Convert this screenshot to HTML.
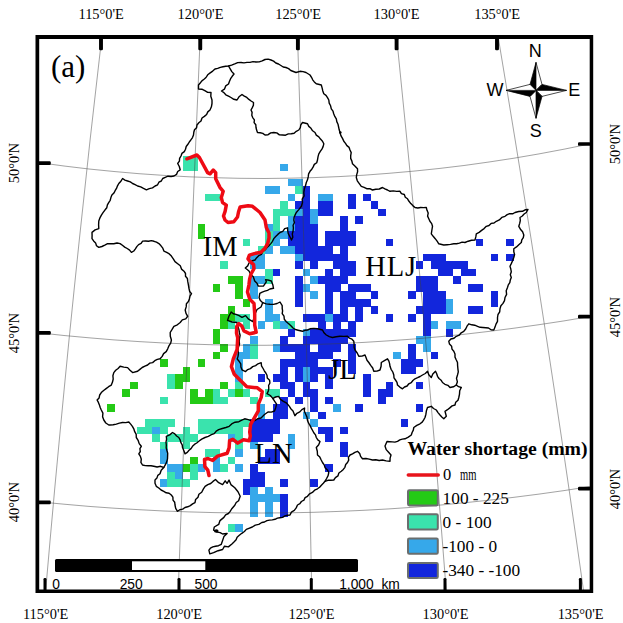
<!DOCTYPE html>
<html><head><meta charset="utf-8"><title>map</title><style>
html,body{margin:0;padding:0;background:#fff;}
#w{position:relative;width:623px;height:623px;overflow:hidden;background:#fff;font-family:"Liberation Serif",serif;color:#000;}
.t{position:absolute;white-space:nowrap;line-height:1;}
.lon{font-size:14.4px;transform:translateX(-50%);}
.lat{font-size:14.4px;transform:translate(-50%,-50%) rotate(-90deg);}
.reg{font-size:28.5px;}
.leg{font-size:17px;}
.sb{font-family:"Liberation Sans",sans-serif;font-size:13px;}
.cp{font-family:"Liberation Sans",sans-serif;font-size:18px;transform:translateX(-50%);}
</style></head><body><div id="w">
<svg width="623" height="623" viewBox="0 0 623 623" style="position:absolute;left:0;top:0">
<rect width="623" height="623" fill="#fff"/>
<g shape-rendering="crispEdges"><rect x="182.50" y="156.00" width="15.19" height="7.67" fill="#3ae3ad"/>
<rect x="182.50" y="163.52" width="15.19" height="7.67" fill="#3ae3ad"/>
<rect x="280.26" y="163.52" width="7.67" height="7.67" fill="#36a8ea"/>
<rect x="287.78" y="178.56" width="15.19" height="7.67" fill="#36a8ea"/>
<rect x="265.22" y="186.08" width="15.19" height="7.67" fill="#36a8ea"/>
<rect x="295.30" y="186.08" width="7.67" height="7.67" fill="#3ae3ad"/>
<rect x="302.82" y="186.08" width="7.67" height="7.67" fill="#1226dc"/>
<rect x="205.06" y="193.60" width="15.19" height="7.67" fill="#3ae3ad"/>
<rect x="287.78" y="193.60" width="7.67" height="7.67" fill="#36a8ea"/>
<rect x="302.82" y="193.60" width="7.67" height="7.67" fill="#1226dc"/>
<rect x="317.86" y="193.60" width="15.19" height="7.67" fill="#36a8ea"/>
<rect x="347.94" y="193.60" width="7.67" height="7.67" fill="#1226dc"/>
<rect x="362.98" y="193.60" width="7.67" height="7.67" fill="#1226dc"/>
<rect x="280.26" y="201.12" width="7.67" height="7.67" fill="#3ae3ad"/>
<rect x="295.30" y="201.12" width="15.19" height="7.67" fill="#1226dc"/>
<rect x="317.86" y="201.12" width="15.19" height="7.67" fill="#1226dc"/>
<rect x="347.94" y="201.12" width="7.67" height="7.67" fill="#1226dc"/>
<rect x="370.50" y="201.12" width="7.67" height="7.67" fill="#1226dc"/>
<rect x="272.74" y="208.64" width="22.71" height="7.67" fill="#3ae3ad"/>
<rect x="295.30" y="208.64" width="7.67" height="7.67" fill="#36a8ea"/>
<rect x="302.82" y="208.64" width="7.67" height="7.67" fill="#1226dc"/>
<rect x="310.34" y="208.64" width="7.67" height="7.67" fill="#36a8ea"/>
<rect x="317.86" y="208.64" width="15.19" height="7.67" fill="#1226dc"/>
<rect x="378.02" y="208.64" width="7.67" height="7.67" fill="#1226dc"/>
<rect x="272.74" y="216.16" width="7.67" height="7.67" fill="#3ae3ad"/>
<rect x="287.78" y="216.16" width="7.67" height="7.67" fill="#36a8ea"/>
<rect x="295.30" y="216.16" width="15.19" height="7.67" fill="#1226dc"/>
<rect x="310.34" y="216.16" width="7.67" height="7.67" fill="#36a8ea"/>
<rect x="340.42" y="216.16" width="7.67" height="7.67" fill="#1226dc"/>
<rect x="355.46" y="216.16" width="7.67" height="7.67" fill="#1226dc"/>
<rect x="197.54" y="223.68" width="7.67" height="7.67" fill="#24ca16"/>
<rect x="265.22" y="223.68" width="7.67" height="7.67" fill="#36a8ea"/>
<rect x="272.74" y="223.68" width="7.67" height="7.67" fill="#3ae3ad"/>
<rect x="287.78" y="223.68" width="7.67" height="7.67" fill="#36a8ea"/>
<rect x="295.30" y="223.68" width="22.71" height="7.67" fill="#1226dc"/>
<rect x="340.42" y="223.68" width="7.67" height="7.67" fill="#1226dc"/>
<rect x="197.54" y="231.20" width="7.67" height="7.67" fill="#24ca16"/>
<rect x="265.22" y="231.20" width="7.67" height="7.67" fill="#3ae3ad"/>
<rect x="272.74" y="231.20" width="15.19" height="7.67" fill="#36a8ea"/>
<rect x="287.78" y="231.20" width="30.23" height="7.67" fill="#1226dc"/>
<rect x="325.38" y="231.20" width="30.23" height="7.67" fill="#1226dc"/>
<rect x="242.66" y="238.72" width="7.67" height="7.67" fill="#3ae3ad"/>
<rect x="265.22" y="238.72" width="7.67" height="7.67" fill="#3ae3ad"/>
<rect x="272.74" y="238.72" width="7.67" height="7.67" fill="#36a8ea"/>
<rect x="287.78" y="238.72" width="30.23" height="7.67" fill="#1226dc"/>
<rect x="325.38" y="238.72" width="30.23" height="7.67" fill="#1226dc"/>
<rect x="385.54" y="238.72" width="7.67" height="7.67" fill="#1226dc"/>
<rect x="475.78" y="238.72" width="7.67" height="7.67" fill="#1226dc"/>
<rect x="505.86" y="238.72" width="7.67" height="7.67" fill="#1226dc"/>
<rect x="257.70" y="246.24" width="7.67" height="7.67" fill="#3ae3ad"/>
<rect x="265.22" y="246.24" width="7.67" height="7.67" fill="#36a8ea"/>
<rect x="280.26" y="246.24" width="15.19" height="7.67" fill="#36a8ea"/>
<rect x="295.30" y="246.24" width="37.75" height="7.67" fill="#1226dc"/>
<rect x="340.42" y="246.24" width="7.67" height="7.67" fill="#1226dc"/>
<rect x="250.18" y="253.76" width="15.19" height="7.67" fill="#36a8ea"/>
<rect x="295.30" y="253.76" width="7.67" height="7.67" fill="#36a8ea"/>
<rect x="302.82" y="253.76" width="45.27" height="7.67" fill="#1226dc"/>
<rect x="423.14" y="253.76" width="22.71" height="7.67" fill="#1226dc"/>
<rect x="490.82" y="253.76" width="7.67" height="7.67" fill="#1226dc"/>
<rect x="505.86" y="253.76" width="7.67" height="7.67" fill="#1226dc"/>
<rect x="250.18" y="261.28" width="15.19" height="7.67" fill="#36a8ea"/>
<rect x="220.10" y="261.28" width="7.67" height="7.67" fill="#3ae3ad"/>
<rect x="295.30" y="261.28" width="7.67" height="7.67" fill="#1226dc"/>
<rect x="310.34" y="261.28" width="7.67" height="7.67" fill="#1226dc"/>
<rect x="332.90" y="261.28" width="22.71" height="7.67" fill="#1226dc"/>
<rect x="415.62" y="261.28" width="7.67" height="7.67" fill="#1226dc"/>
<rect x="430.66" y="261.28" width="37.75" height="7.67" fill="#1226dc"/>
<rect x="265.22" y="268.80" width="7.67" height="7.67" fill="#3ae3ad"/>
<rect x="272.74" y="268.80" width="7.67" height="7.67" fill="#1226dc"/>
<rect x="302.82" y="268.80" width="7.67" height="7.67" fill="#36a8ea"/>
<rect x="325.38" y="268.80" width="7.67" height="7.67" fill="#1226dc"/>
<rect x="340.42" y="268.80" width="15.19" height="7.67" fill="#1226dc"/>
<rect x="438.18" y="268.80" width="15.19" height="7.67" fill="#1226dc"/>
<rect x="460.74" y="268.80" width="15.19" height="7.67" fill="#1226dc"/>
<rect x="227.62" y="276.32" width="15.19" height="7.67" fill="#24ca16"/>
<rect x="250.18" y="276.32" width="15.19" height="7.67" fill="#36a8ea"/>
<rect x="265.22" y="276.32" width="7.67" height="7.67" fill="#3ae3ad"/>
<rect x="295.30" y="276.32" width="7.67" height="7.67" fill="#1226dc"/>
<rect x="310.34" y="276.32" width="7.67" height="7.67" fill="#36a8ea"/>
<rect x="317.86" y="276.32" width="30.23" height="7.67" fill="#1226dc"/>
<rect x="415.62" y="276.32" width="22.71" height="7.67" fill="#1226dc"/>
<rect x="453.22" y="276.32" width="7.67" height="7.67" fill="#1226dc"/>
<rect x="212.58" y="283.84" width="7.67" height="7.67" fill="#24ca16"/>
<rect x="235.14" y="283.84" width="7.67" height="7.67" fill="#24ca16"/>
<rect x="250.18" y="283.84" width="7.67" height="7.67" fill="#36a8ea"/>
<rect x="295.30" y="283.84" width="7.67" height="7.67" fill="#1226dc"/>
<rect x="302.82" y="283.84" width="7.67" height="7.67" fill="#36a8ea"/>
<rect x="325.38" y="283.84" width="15.19" height="7.67" fill="#1226dc"/>
<rect x="347.94" y="283.84" width="22.71" height="7.67" fill="#1226dc"/>
<rect x="415.62" y="283.84" width="22.71" height="7.67" fill="#1226dc"/>
<rect x="468.26" y="283.84" width="15.19" height="7.67" fill="#1226dc"/>
<rect x="235.14" y="291.36" width="7.67" height="7.67" fill="#24ca16"/>
<rect x="250.18" y="291.36" width="7.67" height="7.67" fill="#36a8ea"/>
<rect x="295.30" y="291.36" width="7.67" height="7.67" fill="#1226dc"/>
<rect x="310.34" y="291.36" width="7.67" height="7.67" fill="#36a8ea"/>
<rect x="325.38" y="291.36" width="7.67" height="7.67" fill="#1226dc"/>
<rect x="340.42" y="291.36" width="15.19" height="7.67" fill="#1226dc"/>
<rect x="370.50" y="291.36" width="7.67" height="7.67" fill="#1226dc"/>
<rect x="408.10" y="291.36" width="7.67" height="7.67" fill="#1226dc"/>
<rect x="423.14" y="291.36" width="22.71" height="7.67" fill="#1226dc"/>
<rect x="490.82" y="291.36" width="7.67" height="7.67" fill="#1226dc"/>
<rect x="242.66" y="298.88" width="7.67" height="7.67" fill="#24ca16"/>
<rect x="265.22" y="298.88" width="7.67" height="7.67" fill="#36a8ea"/>
<rect x="295.30" y="298.88" width="7.67" height="7.67" fill="#1226dc"/>
<rect x="325.38" y="298.88" width="7.67" height="7.67" fill="#1226dc"/>
<rect x="340.42" y="298.88" width="30.23" height="7.67" fill="#1226dc"/>
<rect x="423.14" y="298.88" width="22.71" height="7.67" fill="#1226dc"/>
<rect x="445.70" y="298.88" width="7.67" height="7.67" fill="#36a8ea"/>
<rect x="490.82" y="298.88" width="7.67" height="7.67" fill="#1226dc"/>
<rect x="227.62" y="306.40" width="7.67" height="7.67" fill="#24ca16"/>
<rect x="265.22" y="306.40" width="7.67" height="7.67" fill="#36a8ea"/>
<rect x="325.38" y="306.40" width="7.67" height="7.67" fill="#1226dc"/>
<rect x="340.42" y="306.40" width="7.67" height="7.67" fill="#1226dc"/>
<rect x="355.46" y="306.40" width="7.67" height="7.67" fill="#1226dc"/>
<rect x="370.50" y="306.40" width="7.67" height="7.67" fill="#1226dc"/>
<rect x="415.62" y="306.40" width="30.23" height="7.67" fill="#1226dc"/>
<rect x="445.70" y="306.40" width="7.67" height="7.67" fill="#36a8ea"/>
<rect x="468.26" y="306.40" width="15.19" height="7.67" fill="#1226dc"/>
<rect x="220.10" y="313.92" width="15.19" height="7.67" fill="#24ca16"/>
<rect x="235.14" y="313.92" width="15.19" height="7.67" fill="#3ae3ad"/>
<rect x="265.22" y="313.92" width="15.19" height="7.67" fill="#36a8ea"/>
<rect x="302.82" y="313.92" width="22.71" height="7.67" fill="#1226dc"/>
<rect x="325.38" y="313.92" width="7.67" height="7.67" fill="#36a8ea"/>
<rect x="332.90" y="313.92" width="15.19" height="7.67" fill="#1226dc"/>
<rect x="355.46" y="313.92" width="7.67" height="7.67" fill="#1226dc"/>
<rect x="385.54" y="313.92" width="7.67" height="7.67" fill="#1226dc"/>
<rect x="408.10" y="313.92" width="7.67" height="7.67" fill="#1226dc"/>
<rect x="423.14" y="313.92" width="7.67" height="7.67" fill="#1226dc"/>
<rect x="220.10" y="321.44" width="7.67" height="7.67" fill="#24ca16"/>
<rect x="227.62" y="321.44" width="7.67" height="7.67" fill="#3ae3ad"/>
<rect x="242.66" y="321.44" width="7.67" height="7.67" fill="#3ae3ad"/>
<rect x="257.70" y="321.44" width="7.67" height="7.67" fill="#36a8ea"/>
<rect x="272.74" y="321.44" width="7.67" height="7.67" fill="#3ae3ad"/>
<rect x="280.26" y="321.44" width="7.67" height="7.67" fill="#36a8ea"/>
<rect x="287.78" y="321.44" width="7.67" height="7.67" fill="#3ae3ad"/>
<rect x="317.86" y="321.44" width="7.67" height="7.67" fill="#1226dc"/>
<rect x="332.90" y="321.44" width="7.67" height="7.67" fill="#1226dc"/>
<rect x="347.94" y="321.44" width="7.67" height="7.67" fill="#1226dc"/>
<rect x="423.14" y="321.44" width="7.67" height="7.67" fill="#1226dc"/>
<rect x="430.66" y="321.44" width="7.67" height="7.67" fill="#36a8ea"/>
<rect x="445.70" y="321.44" width="15.19" height="7.67" fill="#36a8ea"/>
<rect x="212.58" y="328.96" width="7.67" height="7.67" fill="#24ca16"/>
<rect x="287.78" y="328.96" width="7.67" height="7.67" fill="#1226dc"/>
<rect x="302.82" y="328.96" width="7.67" height="7.67" fill="#36a8ea"/>
<rect x="310.34" y="328.96" width="45.27" height="7.67" fill="#1226dc"/>
<rect x="423.14" y="328.96" width="7.67" height="7.67" fill="#1226dc"/>
<rect x="445.70" y="328.96" width="7.67" height="7.67" fill="#1226dc"/>
<rect x="212.58" y="336.48" width="7.67" height="7.67" fill="#24ca16"/>
<rect x="250.18" y="336.48" width="7.67" height="7.67" fill="#36a8ea"/>
<rect x="280.26" y="336.48" width="7.67" height="7.67" fill="#1226dc"/>
<rect x="302.82" y="336.48" width="45.27" height="7.67" fill="#1226dc"/>
<rect x="415.62" y="336.48" width="15.19" height="7.67" fill="#36a8ea"/>
<rect x="220.10" y="344.00" width="7.67" height="7.67" fill="#24ca16"/>
<rect x="242.66" y="344.00" width="7.67" height="7.67" fill="#36a8ea"/>
<rect x="250.18" y="344.00" width="7.67" height="7.67" fill="#3ae3ad"/>
<rect x="272.74" y="344.00" width="7.67" height="7.67" fill="#36a8ea"/>
<rect x="280.26" y="344.00" width="30.23" height="7.67" fill="#1226dc"/>
<rect x="317.86" y="344.00" width="22.71" height="7.67" fill="#1226dc"/>
<rect x="347.94" y="344.00" width="7.67" height="7.67" fill="#1226dc"/>
<rect x="408.10" y="344.00" width="7.67" height="7.67" fill="#1226dc"/>
<rect x="423.14" y="344.00" width="7.67" height="7.67" fill="#36a8ea"/>
<rect x="212.58" y="351.52" width="7.67" height="7.67" fill="#24ca16"/>
<rect x="235.14" y="351.52" width="15.19" height="7.67" fill="#36a8ea"/>
<rect x="250.18" y="351.52" width="7.67" height="7.67" fill="#3ae3ad"/>
<rect x="295.30" y="351.52" width="37.75" height="7.67" fill="#1226dc"/>
<rect x="347.94" y="351.52" width="7.67" height="7.67" fill="#1226dc"/>
<rect x="393.06" y="351.52" width="7.67" height="7.67" fill="#36a8ea"/>
<rect x="408.10" y="351.52" width="7.67" height="7.67" fill="#1226dc"/>
<rect x="430.66" y="351.52" width="7.67" height="7.67" fill="#1226dc"/>
<rect x="159.94" y="359.04" width="7.67" height="7.67" fill="#24ca16"/>
<rect x="197.54" y="359.04" width="7.67" height="7.67" fill="#24ca16"/>
<rect x="235.14" y="359.04" width="7.67" height="7.67" fill="#36a8ea"/>
<rect x="280.26" y="359.04" width="37.75" height="7.67" fill="#1226dc"/>
<rect x="332.90" y="359.04" width="7.67" height="7.67" fill="#1226dc"/>
<rect x="347.94" y="359.04" width="7.67" height="7.67" fill="#1226dc"/>
<rect x="400.58" y="359.04" width="22.71" height="7.67" fill="#1226dc"/>
<rect x="182.50" y="366.56" width="7.67" height="7.67" fill="#24ca16"/>
<rect x="235.14" y="366.56" width="7.67" height="7.67" fill="#36a8ea"/>
<rect x="280.26" y="366.56" width="7.67" height="7.67" fill="#1226dc"/>
<rect x="295.30" y="366.56" width="7.67" height="7.67" fill="#1226dc"/>
<rect x="302.82" y="366.56" width="7.67" height="7.67" fill="#36a8ea"/>
<rect x="310.34" y="366.56" width="22.71" height="7.67" fill="#1226dc"/>
<rect x="347.94" y="366.56" width="7.67" height="7.67" fill="#1226dc"/>
<rect x="400.58" y="366.56" width="15.19" height="7.67" fill="#1226dc"/>
<rect x="167.46" y="374.08" width="7.67" height="7.67" fill="#3ae3ad"/>
<rect x="174.98" y="374.08" width="15.19" height="7.67" fill="#24ca16"/>
<rect x="235.14" y="374.08" width="7.67" height="7.67" fill="#36a8ea"/>
<rect x="257.70" y="374.08" width="7.67" height="7.67" fill="#1226dc"/>
<rect x="272.74" y="374.08" width="15.19" height="7.67" fill="#1226dc"/>
<rect x="295.30" y="374.08" width="7.67" height="7.67" fill="#1226dc"/>
<rect x="302.82" y="374.08" width="7.67" height="7.67" fill="#36a8ea"/>
<rect x="310.34" y="374.08" width="7.67" height="7.67" fill="#1226dc"/>
<rect x="325.38" y="374.08" width="7.67" height="7.67" fill="#1226dc"/>
<rect x="362.98" y="374.08" width="7.67" height="7.67" fill="#1226dc"/>
<rect x="129.86" y="381.60" width="7.67" height="7.67" fill="#24ca16"/>
<rect x="167.46" y="381.60" width="7.67" height="7.67" fill="#3ae3ad"/>
<rect x="174.98" y="381.60" width="7.67" height="7.67" fill="#24ca16"/>
<rect x="220.10" y="381.60" width="7.67" height="7.67" fill="#24ca16"/>
<rect x="235.14" y="381.60" width="7.67" height="7.67" fill="#3ae3ad"/>
<rect x="280.26" y="381.60" width="15.19" height="7.67" fill="#1226dc"/>
<rect x="302.82" y="381.60" width="7.67" height="7.67" fill="#1226dc"/>
<rect x="325.38" y="381.60" width="7.67" height="7.67" fill="#1226dc"/>
<rect x="362.98" y="381.60" width="7.67" height="7.67" fill="#1226dc"/>
<rect x="385.54" y="381.60" width="7.67" height="7.67" fill="#1226dc"/>
<rect x="415.62" y="381.60" width="7.67" height="7.67" fill="#1226dc"/>
<rect x="122.34" y="389.12" width="7.67" height="7.67" fill="#24ca16"/>
<rect x="190.02" y="389.12" width="7.67" height="7.67" fill="#24ca16"/>
<rect x="205.06" y="389.12" width="7.67" height="7.67" fill="#24ca16"/>
<rect x="212.58" y="389.12" width="7.67" height="7.67" fill="#3ae3ad"/>
<rect x="227.62" y="389.12" width="7.67" height="7.67" fill="#3ae3ad"/>
<rect x="235.14" y="389.12" width="7.67" height="7.67" fill="#24ca16"/>
<rect x="242.66" y="389.12" width="7.67" height="7.67" fill="#3ae3ad"/>
<rect x="265.22" y="389.12" width="15.19" height="7.67" fill="#3ae3ad"/>
<rect x="287.78" y="389.12" width="7.67" height="7.67" fill="#1226dc"/>
<rect x="302.82" y="389.12" width="15.19" height="7.67" fill="#1226dc"/>
<rect x="362.98" y="389.12" width="7.67" height="7.67" fill="#1226dc"/>
<rect x="378.02" y="389.12" width="15.19" height="7.67" fill="#1226dc"/>
<rect x="159.94" y="396.64" width="7.67" height="7.67" fill="#3ae3ad"/>
<rect x="190.02" y="396.64" width="22.71" height="7.67" fill="#24ca16"/>
<rect x="212.58" y="396.64" width="15.19" height="7.67" fill="#3ae3ad"/>
<rect x="250.18" y="396.64" width="7.67" height="7.67" fill="#3ae3ad"/>
<rect x="280.26" y="396.64" width="7.67" height="7.67" fill="#1226dc"/>
<rect x="295.30" y="396.64" width="7.67" height="7.67" fill="#1226dc"/>
<rect x="310.34" y="396.64" width="7.67" height="7.67" fill="#1226dc"/>
<rect x="325.38" y="396.64" width="7.67" height="7.67" fill="#1226dc"/>
<rect x="378.02" y="396.64" width="7.67" height="7.67" fill="#1226dc"/>
<rect x="107.30" y="404.16" width="7.67" height="7.67" fill="#24ca16"/>
<rect x="257.70" y="404.16" width="7.67" height="7.67" fill="#36a8ea"/>
<rect x="272.74" y="404.16" width="15.19" height="7.67" fill="#1226dc"/>
<rect x="310.34" y="404.16" width="7.67" height="7.67" fill="#1226dc"/>
<rect x="332.90" y="404.16" width="7.67" height="7.67" fill="#36a8ea"/>
<rect x="355.46" y="404.16" width="7.67" height="7.67" fill="#1226dc"/>
<rect x="415.62" y="404.16" width="7.67" height="7.67" fill="#1226dc"/>
<rect x="257.70" y="411.68" width="7.67" height="7.67" fill="#36a8ea"/>
<rect x="272.74" y="411.68" width="15.19" height="7.67" fill="#1226dc"/>
<rect x="302.82" y="411.68" width="7.67" height="7.67" fill="#36a8ea"/>
<rect x="317.86" y="411.68" width="7.67" height="7.67" fill="#1226dc"/>
<rect x="144.90" y="419.20" width="30.23" height="7.67" fill="#3ae3ad"/>
<rect x="197.54" y="419.20" width="52.79" height="7.67" fill="#3ae3ad"/>
<rect x="250.18" y="419.20" width="30.23" height="7.67" fill="#1226dc"/>
<rect x="310.34" y="419.20" width="7.67" height="7.67" fill="#36a8ea"/>
<rect x="400.58" y="419.20" width="7.67" height="7.67" fill="#1226dc"/>
<rect x="137.38" y="426.72" width="15.19" height="7.67" fill="#3ae3ad"/>
<rect x="152.42" y="426.72" width="7.67" height="7.67" fill="#36a8ea"/>
<rect x="159.94" y="426.72" width="7.67" height="7.67" fill="#3ae3ad"/>
<rect x="182.50" y="426.72" width="7.67" height="7.67" fill="#3ae3ad"/>
<rect x="197.54" y="426.72" width="45.27" height="7.67" fill="#3ae3ad"/>
<rect x="250.18" y="426.72" width="30.23" height="7.67" fill="#1226dc"/>
<rect x="317.86" y="426.72" width="15.19" height="7.67" fill="#1226dc"/>
<rect x="340.42" y="426.72" width="7.67" height="7.67" fill="#1226dc"/>
<rect x="152.42" y="434.24" width="7.67" height="7.67" fill="#3ae3ad"/>
<rect x="167.46" y="434.24" width="30.23" height="7.67" fill="#3ae3ad"/>
<rect x="227.62" y="434.24" width="7.67" height="7.67" fill="#36a8ea"/>
<rect x="235.14" y="434.24" width="7.67" height="7.67" fill="#3ae3ad"/>
<rect x="250.18" y="434.24" width="22.71" height="7.67" fill="#1226dc"/>
<rect x="287.78" y="434.24" width="7.67" height="7.67" fill="#36a8ea"/>
<rect x="325.38" y="434.24" width="7.67" height="7.67" fill="#1226dc"/>
<rect x="159.94" y="441.76" width="7.67" height="7.67" fill="#3ae3ad"/>
<rect x="182.50" y="441.76" width="7.67" height="7.67" fill="#3ae3ad"/>
<rect x="235.14" y="441.76" width="7.67" height="7.67" fill="#3ae3ad"/>
<rect x="250.18" y="441.76" width="7.67" height="7.67" fill="#36a8ea"/>
<rect x="287.78" y="441.76" width="7.67" height="7.67" fill="#36a8ea"/>
<rect x="340.42" y="441.76" width="7.67" height="7.67" fill="#1226dc"/>
<rect x="159.94" y="449.28" width="7.67" height="7.67" fill="#36a8ea"/>
<rect x="205.06" y="449.28" width="15.19" height="7.67" fill="#3ae3ad"/>
<rect x="235.14" y="449.28" width="7.67" height="7.67" fill="#36a8ea"/>
<rect x="265.22" y="449.28" width="15.19" height="7.67" fill="#1226dc"/>
<rect x="340.42" y="449.28" width="7.67" height="7.67" fill="#1226dc"/>
<rect x="159.94" y="456.80" width="7.67" height="7.67" fill="#36a8ea"/>
<rect x="190.02" y="456.80" width="7.67" height="7.67" fill="#24ca16"/>
<rect x="212.58" y="456.80" width="7.67" height="7.67" fill="#36a8ea"/>
<rect x="227.62" y="456.80" width="7.67" height="7.67" fill="#3ae3ad"/>
<rect x="257.70" y="456.80" width="22.71" height="7.67" fill="#1226dc"/>
<rect x="167.46" y="464.32" width="15.19" height="7.67" fill="#36a8ea"/>
<rect x="182.50" y="464.32" width="7.67" height="7.67" fill="#24ca16"/>
<rect x="190.02" y="464.32" width="7.67" height="7.67" fill="#3ae3ad"/>
<rect x="197.54" y="464.32" width="7.67" height="7.67" fill="#36a8ea"/>
<rect x="212.58" y="464.32" width="7.67" height="7.67" fill="#36a8ea"/>
<rect x="220.10" y="464.32" width="7.67" height="7.67" fill="#3ae3ad"/>
<rect x="235.14" y="464.32" width="7.67" height="7.67" fill="#36a8ea"/>
<rect x="250.18" y="464.32" width="7.67" height="7.67" fill="#1226dc"/>
<rect x="325.38" y="464.32" width="7.67" height="7.67" fill="#1226dc"/>
<rect x="167.46" y="471.84" width="7.67" height="7.67" fill="#3ae3ad"/>
<rect x="174.98" y="471.84" width="7.67" height="7.67" fill="#36a8ea"/>
<rect x="190.02" y="471.84" width="7.67" height="7.67" fill="#3ae3ad"/>
<rect x="250.18" y="471.84" width="15.19" height="7.67" fill="#1226dc"/>
<rect x="159.94" y="479.36" width="7.67" height="7.67" fill="#36a8ea"/>
<rect x="167.46" y="479.36" width="22.71" height="7.67" fill="#3ae3ad"/>
<rect x="242.66" y="479.36" width="22.71" height="7.67" fill="#1226dc"/>
<rect x="280.26" y="479.36" width="7.67" height="7.67" fill="#1226dc"/>
<rect x="310.34" y="479.36" width="7.67" height="7.67" fill="#1226dc"/>
<rect x="242.66" y="486.88" width="7.67" height="7.67" fill="#1226dc"/>
<rect x="250.18" y="486.88" width="7.67" height="7.67" fill="#36a8ea"/>
<rect x="265.22" y="486.88" width="7.67" height="7.67" fill="#36a8ea"/>
<rect x="250.18" y="494.40" width="30.23" height="7.67" fill="#36a8ea"/>
<rect x="280.26" y="494.40" width="7.67" height="7.67" fill="#1226dc"/>
<rect x="250.18" y="501.92" width="7.67" height="7.67" fill="#36a8ea"/>
<rect x="265.22" y="501.92" width="7.67" height="7.67" fill="#36a8ea"/>
<rect x="280.26" y="501.92" width="7.67" height="7.67" fill="#1226dc"/>
<rect x="250.18" y="509.44" width="7.67" height="7.67" fill="#36a8ea"/>
<rect x="265.22" y="509.44" width="7.67" height="7.67" fill="#36a8ea"/>
<rect x="280.26" y="509.44" width="7.67" height="7.67" fill="#1226dc"/>
<rect x="227.62" y="524.48" width="7.67" height="7.67" fill="#3ae3ad"/>
<rect x="235.14" y="524.48" width="7.67" height="7.67" fill="#36a8ea"/></g>
<g fill="none" stroke="#404040" stroke-width="0.6" opacity="0.8"><path d="M101.6 39.0 L95.9 89.0 L90.2 139.0 L84.8 189.0 L79.4 239.0 L74.2 289.0 L69.1 339.0 L64.2 389.0 L59.4 439.0 L54.7 489.0 L50.2 539.0 L45.8 589.0 L45.7 590.0"/><path d="M200.1 39.0 L198.0 89.0 L195.9 139.0 L193.8 189.0 L191.8 239.0 L189.7 289.0 L187.8 339.0 L185.8 389.0 L183.9 439.0 L182.0 489.0 L180.1 539.0 L178.3 589.0 L178.3 590.0"/><path d="M297.6 39.0 L299.2 89.0 L300.8 139.0 L302.3 189.0 L303.7 239.0 L305.0 289.0 L306.3 339.0 L307.5 389.0 L308.6 439.0 L309.7 489.0 L310.7 539.0 L311.7 589.0 L311.7 590.0"/><path d="M396.8 39.0 L401.8 89.0 L406.8 139.0 L411.7 189.0 L416.4 239.0 L421.0 289.0 L425.5 339.0 L429.8 389.0 L434.1 439.0 L438.2 489.0 L442.2 539.0 L446.1 589.0 L446.2 590.0"/><path d="M498.5 39.0 L506.8 89.0 L515.0 139.0 L523.1 189.0 L531.1 239.0 L538.9 289.0 L546.6 339.0 L554.2 389.0 L561.7 439.0 L569.0 489.0 L576.2 539.0 L583.3 589.0 L583.5 590.0"/><path d="M39.0 162.6 L64.0 166.0 L89.0 169.0 L114.0 171.5 L139.0 173.7 L164.0 175.4 L189.0 176.8 L214.0 177.7 L239.0 178.3 L264.0 178.5 L289.0 178.2 L314.0 177.6 L339.0 176.6 L364.0 175.2 L389.0 173.3 L414.0 171.1 L439.0 168.5 L464.0 165.5 L489.0 162.0 L514.0 158.2 L539.0 153.9 L564.0 149.2 L589.0 144.1 L590.0 143.9"/><path d="M39.0 332.8 L64.0 335.5 L89.0 337.8 L114.0 339.9 L139.0 341.6 L164.0 343.0 L189.0 344.0 L214.0 344.8 L239.0 345.2 L264.0 345.3 L289.0 345.0 L314.0 344.5 L339.0 343.6 L364.0 342.4 L389.0 340.8 L414.0 339.0 L439.0 336.8 L464.0 334.3 L489.0 331.4 L514.0 328.2 L539.0 324.7 L564.0 320.9 L589.0 316.7 L590.0 316.5"/><path d="M39.0 501.8 L64.0 504.2 L89.0 506.4 L114.0 508.2 L139.0 509.7 L164.0 511.0 L189.0 511.9 L214.0 512.6 L239.0 513.0 L264.0 513.0 L289.0 512.8 L314.0 512.3 L339.0 511.4 L364.0 510.3 L389.0 508.9 L414.0 507.2 L439.0 505.2 L464.0 502.8 L489.0 500.2 L514.0 497.3 L539.0 494.1 L564.0 490.6 L589.0 486.7 L590.0 486.6"/></g>
<g fill="none" stroke="#000" stroke-width="1.4" stroke-linejoin="round" stroke-linecap="round"><path d="M181.0 156.0 L181.9 153.4 L184.3 151.6 L185.5 149.2 L186.2 146.5 L187.9 144.3 L189.3 142.0 L190.9 139.8 L192.5 137.6 L193.5 135.0 L193.8 132.3 L194.5 129.8 L196.6 127.7 L197.0 125.0 L198.8 122.8 L201.0 121.0 L202.0 118.0 L204.4 116.4 L206.6 114.5 L207.8 111.9 L210.0 110.0 L211.4 106.8 L212.0 103.5 L212.0 100.0 L210.8 96.3 L211.0 92.5 L207.7 92.4 L204.8 90.7 L201.8 89.2 L198.5 89.0 L198.5 85.0 L200.2 83.0 L201.9 80.9 L204.0 79.3 L206.0 77.5 L207.7 74.8 L210.2 72.9 L212.7 71.1 L215.0 69.0 L217.7 68.4 L220.3 67.4 L223.0 66.8 L225.7 66.2 L228.5 66.0 L231.6 65.1 L234.7 63.9 L237.7 62.6 L241.0 62.5 L244.0 62.9 L247.0 62.4 L250.0 62.4 L253.0 61.6 L256.0 62.0 L259.2 61.9 L262.2 60.9 L265.0 59.5 L268.1 59.1 L271.0 60.0 L273.6 61.1 L275.8 63.0 L278.5 64.0 L280.9 65.5 L283.2 67.0 L286.0 67.5 L288.6 68.6 L290.8 70.5 L293.4 71.5 L296.0 72.5 L300.0 71.3 L303.1 71.6 L306.0 72.5 L310.0 75.0 L311.5 77.3 L312.7 79.8 L314.3 81.9 L316.3 83.8 L321.3 85.0 L322.1 87.9 L322.8 90.9 L323.8 93.8 L326.0 95.4 L327.5 97.7 L328.8 100.0 L329.2 103.1 L330.6 105.8 L331.3 108.8 L333.0 111.1 L333.7 113.8 L334.8 116.4 L336.3 118.8 L336.8 121.6 L338.0 124.2 L338.6 127.0 L339.2 129.8 L340.0 132.5 L340.9 135.6 L342.5 138.4 L343.8 141.3 L345.5 143.4 L346.9 145.6 L349.1 147.4 L350.0 150.0 L351.2 152.6 L350.7 155.6 L350.7 158.4 L351.9 161.1 L352.5 163.8 L355.1 166.2 L357.5 168.8 L357.6 171.8 L356.7 174.6 L356.3 177.5 L357.3 180.8 L359.3 183.6 L361.3 186.3 L364.1 187.3 L366.7 188.7 L369.8 188.7 L372.5 190.0 L375.8 189.2 L379.3 189.0 L382.5 187.5 L384.9 188.9 L387.5 190.0 L390.0 191.3 L393.3 190.9 L396.7 191.4 L400.0 191.3 L401.4 193.7 L404.3 194.5 L405.3 197.2 L407.5 198.8 L409.0 201.3 L410.8 203.6 L412.8 205.6 L415.0 207.5 L417.8 208.0 L420.6 207.5 L423.5 207.6 L426.3 207.5 L427.0 210.3 L428.2 213.0 L427.6 216.1 L428.8 218.8 L429.9 221.3 L431.7 223.6 L432.5 226.3 L431.9 230.0 L431.3 233.8 L433.2 236.3 L435.2 238.7 L437.1 241.2 L438.8 243.8 L443.8 245.0 L447.1 244.7 L450.5 244.4 L453.8 243.8 L456.6 243.7 L459.4 243.1 L462.1 242.1 L465.0 242.5 L468.2 241.2 L471.5 240.3 L475.0 240.0 L475.8 236.9 L476.3 233.8 L479.1 232.4 L481.6 230.4 L484.1 228.6 L486.3 226.3 L489.0 225.5 L491.1 223.4 L494.0 223.0 L496.3 221.3 L499.3 219.9 L501.8 217.4 L505.0 216.3 L507.2 214.6 L509.7 213.7 L512.6 213.8 L515.0 212.5 L518.7 211.5 L522.5 211.3 L525.1 209.8 L528.0 209.5 L526.3 212.5 L524.1 214.0 L522.3 216.0 L520.0 217.5 L520.3 220.5 L519.7 223.4 L518.8 226.3 L520.4 229.2 L522.6 231.8 L523.8 235.0 L523.3 237.6 L521.8 239.9 L521.3 242.5 L518.8 244.7 L516.5 246.9 L513.8 248.8 L513.8 251.7 L514.6 254.6 L513.8 257.5 L512.7 260.5 L511.4 263.4 L510.0 266.3 L510.8 269.0 L511.3 271.8 L510.3 274.8 L511.3 277.5 L510.3 280.0 L509.8 282.7 L508.3 284.9 L507.5 287.5 L506.2 290.7 L506.6 294.4 L505.0 297.5 L504.5 300.6 L503.0 303.4 L500.9 305.8 L500.0 308.8 L499.7 311.9 L498.0 314.5 L497.5 317.5 L497.5 321.3 L496.0 324.1 L495.0 327.1 L493.8 330.0 L491.0 329.8 L488.5 328.0 L485.8 327.7 L482.9 327.5 L480.1 327.3 L477.5 326.3 L474.7 325.2 L471.7 324.8 L468.8 323.8 L467.0 326.2 L465.7 329.0 L463.8 331.3 L461.2 332.8 L459.2 335.2 L456.3 336.3 L454.0 338.2 L450.9 339.0 L448.8 341.3 L449.5 344.1 L451.6 346.2 L452.0 349.1 L453.8 351.3 L455.0 354.0 L455.0 357.1 L456.2 359.8 L457.5 362.5 L457.6 365.6 L457.9 368.8 L458.3 371.9 L457.5 375.0 L456.5 378.3 L457.4 381.8 L456.3 385.0 L458.6 386.7 L461.3 387.5 L459.7 390.7 L459.5 394.1 L458.8 397.5 L458.0 400.2 L455.7 402.2 L455.0 405.0 L452.1 405.9 L449.8 407.9 L447.5 409.7 L445.0 411.3 L446.3 416.3 L443.8 418.8 L441.8 417.0 L440.0 415.0 L438.0 412.6 L436.3 410.0 L433.5 408.5 L431.3 406.3 L427.5 407.5 L426.4 410.8 L425.9 414.2 L425.0 417.5 L423.7 419.9 L422.2 422.1 L420.0 423.8 L416.8 425.4 L413.8 427.5 L413.3 430.1 L412.1 432.5 L411.3 435.0 L408.3 437.1 L405.0 438.8 L402.3 439.1 L399.8 439.9 L397.5 441.3 L394.9 442.1 L392.3 441.9 L389.6 441.7 L387.0 441.5 L385.0 446.0 L386.2 449.6 L388.8 452.5 L391.0 455.0 L390.1 458.1 L390.0 461.3 L386.2 460.9 L382.5 460.0 L379.2 460.5 L375.8 459.7 L372.5 460.0 L369.2 459.1 L365.9 458.5 L362.5 458.8 L360.6 456.4 L359.7 453.5 L357.5 451.3 L354.9 452.3 L352.5 453.8 L350.0 455.0 L348.4 457.3 L348.7 460.1 L347.5 462.5 L345.7 464.5 L344.9 467.3 L343.3 469.4 L341.3 471.3 L338.9 473.0 L337.9 475.9 L335.4 477.6 L333.8 480.0 L330.8 480.3 L327.9 480.3 L325.0 481.3 L323.3 483.3 L321.4 485.2 L319.6 487.2 L317.5 488.8 L314.6 490.2 L312.4 492.4 L309.6 493.8 L307.5 496.3 L305.1 497.6 L303.9 500.2 L301.4 501.5 L299.9 503.7 L297.5 505.0 L296.2 507.9 L294.3 510.4 L291.4 512.1 L290.0 515.0 L287.4 515.3 L284.9 515.9 L282.6 517.4 L279.9 517.7 L277.4 518.1 L275.0 519.3 L272.3 519.9 L269.6 520.1 L266.9 520.6 L264.5 522.0 L261.8 522.5 L258.8 524.4 L255.3 525.1 L252.3 527.0 L248.9 528.3 L246.3 529.4 L244.4 531.5 L241.8 533.3 L239.3 535.3 L237.1 537.2 L236.1 539.8 L234.2 541.8 L232.2 543.7 L228.4 546.9 L224.5 546.2 L222.6 549.5 L218.1 550.7 L213.6 552.7 L209.8 553.9 L208.9 550.1 L210.4 548.2 L212.8 546.9 L215.5 546.2 L218.5 545.7 L221.3 544.3 L222.6 540.5 L223.9 536.6 L227.1 533.4 L222.6 534.0 L220.2 532.6 L217.5 532.1 L213.6 530.2 L214.3 527.0 L218.7 524.4 L220.0 520.6 L223.9 517.4 L225.6 514.9 L228.4 513.5 L230.2 511.4 L231.6 509.0 L234.8 505.2 L236.2 502.5 L238.6 500.7 L240.2 496.2 L238.0 491.7 L234.8 487.8 L230.9 484.6 L229.0 480.1 L227.1 483.3 L225.2 480.8 L222.6 484.6 L218.7 482.7 L215.5 479.5 L213.0 481.4 L210.7 483.5 L207.8 484.6 L205.1 486.4 L203.3 489.1 L201.7 492.2 L198.9 494.3 L198.0 497.2 L195.6 499.5 L195.0 502.6 L192.6 503.9 L190.3 505.6 L187.7 506.8 L185.0 507.5 L182.7 509.1 L179.8 509.7 L177.5 511.3 L175.7 508.4 L175.0 505.0 L174.7 502.3 L173.0 500.1 L172.9 497.2 L171.3 495.0 L169.1 493.2 L166.2 492.8 L163.8 491.3 L161.1 490.0 L158.8 488.0 L156.3 486.3 L155.0 483.3 L155.0 480.0 L156.9 478.1 L157.8 475.4 L160.0 473.8 L161.2 470.2 L163.8 467.5 L160.6 466.3 L157.1 467.0 L153.8 466.3 L151.0 465.8 L148.1 465.7 L145.3 465.6 L142.5 465.0 L140.9 462.4 L141.3 459.2 L140.4 456.4 L138.8 453.8 L140.3 451.5 L139.9 448.6 L141.3 446.3 L139.2 443.6 L138.1 440.3 L136.3 437.5 L136.2 434.4 L134.7 431.7 L133.8 428.8 L132.4 426.4 L130.7 424.1 L128.8 422.0 L125.7 422.6 L122.5 422.5 L119.4 423.1 L116.3 424.1 L113.2 424.8 L110.0 425.0 L108.8 425.0 L105.8 423.0 L103.8 420.0 L102.6 416.8 L102.9 413.1 L101.3 410.0 L100.2 407.5 L99.4 404.9 L98.4 402.4 L97.1 400.0 L99.1 397.9 L99.7 395.0 L101.3 392.6 L103.6 390.5 L106.1 388.6 L108.6 386.7 L111.3 385.1 L112.5 382.1 L113.2 379.0 L112.9 375.7 L113.8 372.6 L115.7 370.3 L118.1 368.5 L120.1 366.3 L123.8 367.1 L127.6 367.6 L130.0 370.2 L132.6 372.6 L137.6 371.3 L139.9 369.4 L142.2 367.5 L144.9 366.2 L147.6 365.0 L149.8 363.1 L152.6 362.6 L154.8 360.7 L157.3 359.4 L160.1 358.8 L162.2 356.4 L163.6 353.6 L166.2 351.6 L167.7 348.8 L168.9 345.9 L170.7 343.2 L171.4 340.0 L170.3 336.3 L170.2 332.5 L172.1 329.4 L173.9 326.3 L177.3 324.8 L180.2 322.5 L182.3 319.9 L185.7 318.9 L187.7 316.3 L186.0 313.3 L185.2 310.0 L186.2 306.9 L186.4 303.7 L188.4 301.6 L189.4 298.9 L190.0 296.1 L191.5 293.7 L189.7 291.5 L189.0 288.7 L188.4 284.9 L187.7 281.2 L187.4 278.5 L185.5 276.3 L185.5 273.5 L184.0 271.2 L181.5 269.1 L180.3 265.8 L177.7 263.7 L175.0 261.6 L173.3 258.8 L171.4 256.1 L169.3 253.9 L166.7 252.4 L163.9 251.1 L162.8 248.2 L161.0 245.8 L158.9 243.6 L156.5 242.2 L154.0 241.3 L151.4 240.6 L148.5 241.3 L145.5 241.0 L142.6 241.1 L141.1 243.4 L138.6 244.6 L136.8 246.6 L135.4 248.9 L133.8 251.0 L131.4 252.4 L129.6 250.1 L127.2 248.5 L124.7 247.1 L122.4 245.3 L120.1 243.6 L117.0 243.0 L113.8 243.7 L110.7 243.8 L107.6 243.6 L104.8 245.1 L101.9 246.5 L98.8 247.4 L96.5 245.7 L95.6 242.9 L93.6 240.9 L92.0 238.6 L92.1 235.5 L92.0 232.4 L95.1 229.9 L98.8 228.6 L98.6 224.8 L98.8 221.0 L99.9 217.9 L101.4 215.1 L103.2 212.4 L105.1 209.8 L106.8 207.7 L107.4 204.9 L108.7 202.6 L110.2 200.3 L110.9 197.6 L111.9 195.1 L113.9 193.1 L115.1 190.7 L116.5 188.4 L117.5 185.8 L118.8 183.5 L120.9 181.2 L122.6 178.5 L124.9 180.1 L127.6 181.0 L130.3 181.9 L132.6 183.5 L135.1 184.7 L137.6 186.0 L140.7 186.9 L143.5 188.4 L146.4 189.8 L149.3 188.6 L152.5 187.9 L155.1 186.0 L157.6 184.8 L158.9 182.2 L161.3 181.0 L162.7 178.5 L165.2 177.3 L168.0 176.2 L171.1 176.5 L174.0 176.0 L176.5 174.4 L177.7 171.5 L180.2 169.8 L179.3 166.5 L177.7 163.5 L179.4 161.2 L179.6 158.4 L181.0 156.0 Z"/><path d="M228.5 66.0 L230.2 68.8 L231.8 71.6 L234.0 74.0 L232.2 76.3 L230.6 78.7 L229.5 81.3 L228.5 84.0 L225.7 85.9 L224.4 89.2 L221.5 91.0 L223.9 92.6 L225.8 94.8 L228.5 96.1 L231.0 97.5 L233.8 99.3 L237.0 100.0 L239.0 96.8 L242.0 94.5 L244.3 96.1 L246.8 97.4 L248.9 99.4 L251.1 101.0 L253.5 102.5 L253.4 105.2 L252.3 107.6 L251.0 110.0 L252.1 112.4 L251.8 115.2 L252.7 117.6 L254.4 119.9 L254.1 122.6 L255.8 124.8 L256.0 127.5 L256.6 130.1 L257.5 132.5 L260.2 132.8 L262.8 133.4 L265.0 135.0 L268.1 134.7 L270.7 132.9 L273.8 132.5 L276.8 132.9 L279.4 134.9 L282.5 135.0 L285.5 135.2 L288.3 133.9 L291.3 133.8 L294.1 133.2 L296.3 131.3 L298.8 130.0 L300.3 127.6 L300.8 124.8 L302.5 122.5 L307.5 123.8 L308.8 126.4 L311.0 128.3 L312.6 130.8 L315.0 132.5 L316.3 135.1 L318.8 136.8 L320.5 139.1 L322.5 141.2 L323.8 143.8 L323.1 146.6 L321.9 149.1 L320.3 151.4 L318.8 153.8 L318.0 156.9 L317.5 160.0 L316.7 162.7 L314.3 164.4 L313.2 166.9 L311.8 169.2 L310.0 171.3 L308.6 173.9 L308.2 176.9 L307.5 179.8 L306.3 182.5 L305.5 185.8 L304.3 189.1 L303.8 192.5 L304.1 195.9 L302.2 199.1 L302.5 202.5 L301.4 206.3 L299.0 209.4 L296.3 212.5 L295.1 214.9 L294.1 217.3 L293.8 220.0 L294.4 222.7 L293.1 225.3 L293.4 228.0 L293.1 231.0 L292.3 234.0 L292.8 237.1 L291.5 240.0 L289.5 236.0 L288.2 233.4 L287.7 230.6 L287.6 227.8 L284.7 228.7 L282.8 231.3 L280.0 232.5 L277.8 234.4 L275.7 236.5 L273.8 238.6 L272.5 241.3 L270.8 243.6 L268.9 245.8 L266.8 247.8 L265.0 250.0 L262.7 251.7 L261.4 254.4 L258.7 255.7 L256.7 257.7 L255.0 260.0 L251.7 261.0 L249.0 263.0 L247.7 265.9 L245.3 268.0 L249.0 271.0 L250.6 274.3 L253.3 276.7 L254.7 281.0 L257.0 283.2 L258.3 286.1 L263.4 286.1 L266.3 281.8 L265.6 279.6 L269.2 280.3 L271.3 281.0 L272.8 284.7 L273.5 288.3 L269.9 289.0 L267.5 290.3 L264.8 291.2 L262.2 292.1 L259.8 293.3 L259.1 297.7 L260.4 300.6 L262.7 302.7"/><path d="M262.7 302.7 L266.2 303.9 L269.9 304.2 L273.5 304.4 L277.1 303.5 L280.0 302.0 L282.2 305.6 L282.2 308.3 L282.6 310.9 L282.2 313.6 L284.0 316.2 L284.3 319.3 L286.3 321.7 L288.7 323.7 L290.9 325.8 L293.0 328.0 L295.4 329.5 L298.1 330.2 L302.5 331.3 L304.9 330.3 L307.6 330.0 L310.0 328.8 L313.8 328.4 L317.5 328.8 L322.5 330.0 L324.0 332.8 L326.3 335.0 L329.3 336.6 L332.5 337.5 L336.2 336.8 L340.0 336.3 L343.8 336.4 L347.5 336.3 L349.4 338.2 L352.0 339.2 L353.8 341.3 L354.1 344.2 L354.1 347.2 L355.0 350.0 L357.2 353.0 L358.8 356.3 L362.0 356.1 L365.0 355.0 L366.0 357.6 L367.0 360.2 L368.8 362.5 L370.7 365.3 L372.7 368.0 L373.8 371.3 L377.0 371.1 L380.0 370.0 L381.1 366.3 L381.3 362.5 L384.4 360.6 L387.5 358.8 L388.9 361.1 L389.6 363.6 L390.0 366.3 L391.1 369.3 L392.8 372.0 L393.8 375.0 L394.0 377.8 L395.5 380.0 L397.0 382.3 L397.5 385.0 L399.8 387.1 L402.5 388.8 L404.5 387.0 L407.1 386.0 L408.8 383.8 L411.3 382.6 L412.9 380.5 L415.0 378.8 L417.6 377.7 L420.1 376.5 L422.5 375.0 L425.3 373.5 L427.5 371.3 L428.8 374.8 L431.3 377.5 L432.8 374.0 L435.5 371.3 L436.7 373.7 L437.5 376.3 L439.0 378.5 L441.1 380.2 L442.5 382.5 L444.9 384.3 L447.9 385.3 L450.0 387.5 L453.4 386.8 L456.3 385.0"/><path d="M262.7 302.7 L261.0 307.0 L257.0 309.5 L255.7 312.4 L254.0 315.0 L253.9 318.4 L252.8 321.6 L248.6 319.2 L245.6 315.6 L242.0 317.4 L239.1 315.7 L236.0 314.4 L233.3 313.8 L231.2 312.0 L229.0 316.0 L227.5 320.4 L232.0 322.0 L237.0 322.5 L237.9 326.3 L239.0 330.0 L239.4 332.7 L240.1 335.3 L239.6 338.0 L239.2 341.0 L239.5 344.1 L238.5 347.0 L238.0 350.0 L238.4 353.1 L238.1 356.1 L237.2 359.0 L239.1 361.3 L240.8 363.8 L240.9 366.9 L242.0 369.8 L245.6 371.6 L247.7 369.6 L250.4 368.6 L252.7 366.6 L255.6 365.6 L258.0 363.8 L261.2 362.7 L261.5 365.8 L263.1 368.5 L264.3 370.8 L265.8 373.0 L267.0 375.3 L267.3 378.1 L269.6 380.2 L269.9 383.0 L268.6 385.5 L268.8 388.4 L268.3 391.1 L267.0 393.6 L270.3 395.5 L272.8 398.4"/><path d="M272.8 398.4 L275.6 397.0 L278.6 396.4 L280.5 399.4 L283.4 401.3 L286.7 403.2 L289.2 406.1 L290.8 408.7 L293.0 410.9 L294.9 415.7 L296.9 413.3 L299.8 411.9 L301.9 409.6 L304.6 408.0 L304.3 411.0 L305.5 413.8 L306.9 417.0 L307.5 420.5 L308.6 423.2 L310.1 425.6 L311.3 428.2 L312.6 430.5 L313.8 432.8 L315.5 434.9 L316.3 437.5 L317.8 439.9 L320.0 441.5 L318.7 444.8 L316.3 447.5 L317.3 451.2 L317.5 455.0 L319.8 457.1 L321.1 459.8 L322.5 462.5 L324.2 464.9 L325.1 467.8 L327.4 469.9 L328.8 472.5 L328.1 475.7 L326.6 478.5 L325.0 481.3"/><path d="M272.8 398.4 L274.7 401.3 L276.6 404.2 L275.7 407.7 L274.5 411.0 L271.3 412.1 L268.0 412.0 L264.5 414.5 L261.0 418.0 L257.8 418.7 L255.0 420.5 L251.5 420.8 L248.3 419.6 L244.7 418.8 L241.8 420.2 L238.9 421.7 L235.1 422.2 L231.7 423.9 L229.2 426.3 L225.9 427.5 L222.3 428.5 L218.7 429.7 L216.2 431.2 L214.2 433.6 L211.4 434.7 L208.3 436.3 L205.0 437.5 L201.7 439.1 L198.8 441.3 L196.7 443.0 L194.4 444.4 L192.5 446.3 L191.0 448.6 L189.0 450.3 L187.3 452.4 L185.0 453.8 L183.8 450.6 L182.5 447.5 L182.2 444.8 L180.8 442.4 L180.1 439.8 L178.8 437.5 L176.6 436.0 L174.8 433.9 L172.5 432.5 L169.7 434.9 L166.3 436.3 L166.6 439.2 L166.0 442.1 L166.3 445.0 L166.2 447.8 L166.9 450.5 L167.7 453.2 L167.6 456.0 L167.5 458.8 L166.7 461.9 L165.4 464.7 L163.8 467.5"/><circle cx="340.3" cy="132.5" r="1.3" fill="#000" stroke="none"/><ellipse cx="216.3" cy="531" rx="2.3" ry="1.7" fill="#000" stroke="none"/></g>
<path d="M186.9 158.8 L196.9 155.0 L199.4 157.5 L207.6 172.6 L210.1 173.8 L213.2 170.0 L215.7 172.6 L215.7 178.8 L220.1 187.6 L223.2 191.3 L221.3 197.6 L222.6 202.6 L226.3 205.1 L225.1 211.4 L223.5 216.0 L225.0 220.0 L228.0 222.5 L233.8 221.8 L237.5 217.0 L238.5 212.0 L240.1 207.0 L248.0 205.7 L252.5 206.3 L260.0 212.5 L265.0 220.0 L266.3 227.5 L269.0 233.0 L269.0 238.0 L267.7 243.5 L264.9 248.3 L261.0 252.2 L254.3 253.6 L249.4 255.1 L248.0 258.9 L250.4 261.8 L253.6 264.6 L254.0 268.6 L251.0 274.0 L249.6 279.2 L248.9 285.0 L247.5 291.9 L249.7 299.1 L254.0 303.5 L254.7 313.6 L254.7 325.1 L256.2 332.3 L249.7 333.8 L243.9 330.9 L241.7 325.8 L238.8 323.7 L236.7 326.6 L236.5 333.0 L237.7 337.7 L237.1 349.3 L233.3 358.9 L231.4 366.6 L234.3 374.3 L241.0 381.0 L246.8 386.8 L257.4 387.8 L262.2 391.6 L261.2 397.4 L258.3 404.2 L258.3 410.9 L254.5 417.6 L250.6 424.4 L249.7 432.1 L250.3 436.0 L249.3 440.7 L243.5 439.7 L237.7 443.1 L232.9 439.3 L229.6 440.7 L229.1 447.9 L227.2 453.2 L217.5 456.1 L212.7 460.5 L207.9 458.5 L204.5 459.5 L204.9 466.6 L207.8 470.2 L209.0 475.5" fill="none" stroke="#ee0a14" stroke-width="3.5" stroke-linejoin="round" stroke-linecap="round"/>
<path d="M35.5 35 H593.2 V593 H35.5 Z M39.2 38.9 V589.6 H589.7 V38.9 Z" fill="#000" fill-rule="evenodd"/>
<g fill="#000"><rect x="99.05" y="38" width="3.9" height="12.2" rx="1.2"/><rect x="198.30" y="38" width="3.9" height="12.2" rx="1.2"/><rect x="295.95" y="38" width="3.9" height="12.2" rx="1.2"/><rect x="394.65" y="38" width="3.9" height="12.2" rx="1.2"/><rect x="495.05" y="38" width="3.9" height="12.2" rx="1.2"/><rect x="43.50" y="578" width="3" height="12.5" rx="1.2"/><rect x="177.50" y="578" width="3" height="12.5" rx="1.2"/><rect x="309.80" y="578" width="3" height="12.5" rx="1.2"/><rect x="443.50" y="578" width="3" height="12.5" rx="1.2"/><rect x="578.90" y="578" width="3" height="12.5" rx="1.2"/><rect x="38" y="161.35" width="12.8" height="3.7" rx="1.2"/><rect x="38" y="331.05" width="12.8" height="3.7" rx="1.2"/><rect x="38" y="500.45" width="12.8" height="3.7" rx="1.2"/><rect x="578" y="142.15" width="12.5" height="3.7" rx="1.2"/><rect x="578" y="314.75" width="12.5" height="3.7" rx="1.2"/><rect x="578" y="486.85" width="12.5" height="3.7" rx="1.2"/></g>
<rect x="55" y="559" width="303" height="13" rx="1.5" fill="#000"/>
<rect x="132" y="561.3" width="73.3" height="8.7" fill="#fff"/>
<path d="M536.0 62.4 L530.0 84.4 L536.0 90.4 Z" fill="#000" stroke="#000" stroke-width="0.7" stroke-linejoin="miter"/><path d="M536.0 62.4 L542.0 84.4 L536.0 90.4 Z" fill="#fff" stroke="#000" stroke-width="0.7" stroke-linejoin="miter"/><path d="M566.5 90.4 L542.0 84.4 L536.0 90.4 Z" fill="#000" stroke="#000" stroke-width="0.7" stroke-linejoin="miter"/><path d="M566.5 90.4 L542.0 96.4 L536.0 90.4 Z" fill="#fff" stroke="#000" stroke-width="0.7" stroke-linejoin="miter"/><path d="M536.0 118.3 L542.0 96.4 L536.0 90.4 Z" fill="#000" stroke="#000" stroke-width="0.7" stroke-linejoin="miter"/><path d="M536.0 118.3 L530.0 96.4 L536.0 90.4 Z" fill="#fff" stroke="#000" stroke-width="0.7" stroke-linejoin="miter"/><path d="M506.1 90.4 L530.0 96.4 L536.0 90.4 Z" fill="#000" stroke="#000" stroke-width="0.7" stroke-linejoin="miter"/><path d="M506.1 90.4 L530.0 84.4 L536.0 90.4 Z" fill="#fff" stroke="#000" stroke-width="0.7" stroke-linejoin="miter"/>
<path d="M408.3 475 H438.2" stroke="#e8141c" stroke-width="3.5" stroke-linecap="round"/>
<rect x="408" y="490.2" width="29.8" height="15.2" rx="1.3" fill="#24ca16" stroke="#6a6e6e" stroke-width="2"/>
<rect x="408" y="514.3" width="29.8" height="15.2" rx="1.3" fill="#3ae3ad" stroke="#6a6e6e" stroke-width="2"/>
<rect x="408" y="538.5" width="29.8" height="15.2" rx="1.3" fill="#36a8ea" stroke="#6a6e6e" stroke-width="2"/>
<rect x="408" y="562.9" width="29.8" height="15.2" rx="1.3" fill="#1226dc" stroke="#6a6e6e" stroke-width="2"/>
</svg>
<div class="t lon" style="left:101.2px;top:6.8px">115°0'E</div>
<div class="t lon" style="left:200.5px;top:6.8px">120°0'E</div>
<div class="t lon" style="left:298.2px;top:6.8px">125°0'E</div>
<div class="t lon" style="left:396.5px;top:6.8px">130°0'E</div>
<div class="t lon" style="left:497.2px;top:6.8px">135°0'E</div>
<div class="t lon" style="left:45.6px;top:607.2px">115°0'E</div>
<div class="t lon" style="left:179.2px;top:607.2px">120°0'E</div>
<div class="t lon" style="left:311.5px;top:607.2px">125°0'E</div>
<div class="t lon" style="left:445.5px;top:607.2px">130°0'E</div>
<div class="t lon" style="left:580.6px;top:607.2px">135°0'E</div>
<div class="t lat" style="left:14.0px;top:163.3px">50°0'N</div>
<div class="t lat" style="left:14.0px;top:332.6px">45°0'N</div>
<div class="t lat" style="left:14.0px;top:502.2px">40°0'N</div>
<div class="t lat" style="left:614.7px;top:143.8px">50°0'N</div>
<div class="t lat" style="left:614.7px;top:316.5px">45°0'N</div>
<div class="t lat" style="left:614.7px;top:488.8px">40°0'N</div>
<div class="t" style="left:51px;top:50.6px;font-size:31px">(a)</div>
<div class="t reg" style="left:202.7px;top:230.9px;font-size:28.5px;line-height:32.7px">IM</div>
<div class="t reg" style="left:365.3px;top:250.7px;font-size:28.5px;letter-spacing:0.9px;line-height:32.7px">HLJ</div>
<div class="t reg" style="left:328.2px;top:354.3px;font-size:28.5px;line-height:32.7px">JL</div>
<div class="t reg" style="left:254.6px;top:438.0px;font-size:28.5px;line-height:32.7px">LN</div>
<div class="t" id="lt" style="left:407.5px;top:436.5px;font-size:19.7px;font-weight:bold;line-height:22.64px">Water shortage (mm)</div>
<div class="t leg" style="left:443.0px;top:465.8px;font-size:16.5px;line-height:18.96px">0</div>
<div class="t" style="left:460.3px;top:466.2px;font-size:16px;line-height:18.38px;transform-origin:0 0;transform:scaleX(0.66)">mm</div>
<div class="t leg" style="left:442.6px;top:488.9px;font-size:17.3px;line-height:19.88px">100 - 225</div>
<div class="t leg" style="left:442.6px;top:513.0px;font-size:17.3px;line-height:19.88px">0 - 100</div>
<div class="t leg" style="left:442.4px;top:537.1px;font-size:17.3px;line-height:19.88px">-100 - 0</div>
<div class="t leg" style="left:442.4px;top:561.2px;font-size:17.3px;line-height:19.88px">-340 - -100</div>
<div class="t sb" style="left:56.0px;top:576.5px;font-size:13.8px;line-height:15.86px;transform:translateX(-50%);">0</div>
<div class="t sb" style="left:131.2px;top:576.5px;font-size:13.8px;line-height:15.86px;transform:translateX(-50%);">250</div>
<div class="t sb" style="left:206.0px;top:576.5px;font-size:13.8px;line-height:15.86px;transform:translateX(-50%);">500</div>
<div class="t sb" style="left:339.2px;top:576.5px;font-size:13.8px;line-height:15.86px;">1,000&nbsp;&nbsp;km</div>
<div class="t cp" style="left:535.3px;top:41.0px;font-size:18.0px;line-height:20.68px">N</div>
<div class="t cp" style="left:535.8px;top:120.7px;font-size:18.0px;line-height:20.68px">S</div>
<div class="t cp" style="left:495.0px;top:80.0px;font-size:18.0px;line-height:20.68px">W</div>
<div class="t cp" style="left:574.2px;top:80.0px;font-size:18.0px;line-height:20.68px">E</div>
</div></body></html>
